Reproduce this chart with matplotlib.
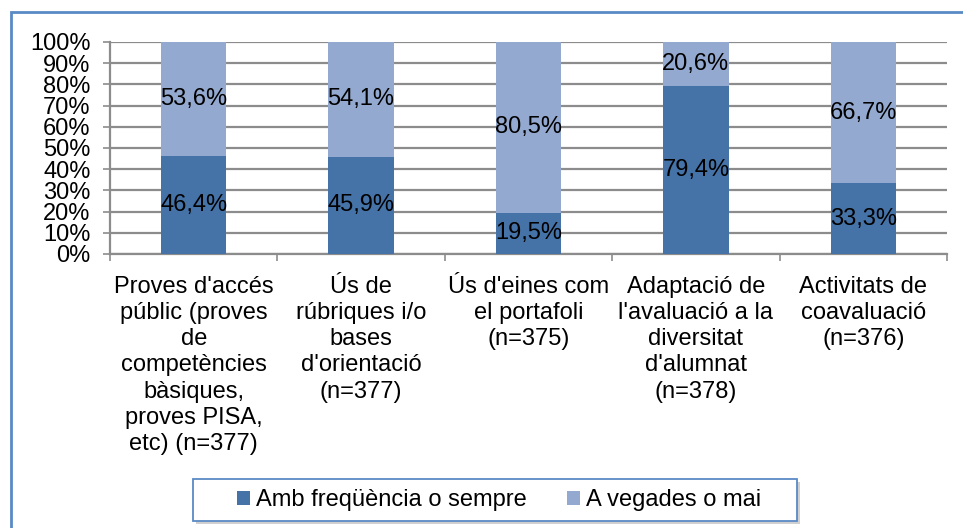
import numpy as np
import matplotlib
matplotlib.use("Agg")
import matplotlib.pyplot as plt
from matplotlib.patches import Rectangle

plt.rcParams['font.family'] = ['Liberation Sans', 'DejaVu Sans']

categories = ["Proves d'accés\npúblic (proves\nde\ncompetències\nbàsiques,\nproves PISA,\netc) (n=377)",
              "Ús de\nrúbriques i/o\nbases\nd'orientació\n(n=377)",
              "Ús d'eines com\nel portafoli\n(n=375)",
              "Adaptació de\nl'avaluació a la\ndiversitat\nd'alumnat\n(n=378)",
              "Activitats de\ncoavaluació\n(n=376)"]
series_names = ['Amb freqüència o sempre', 'A vegades o mai']
often = [46.4, 45.9, 19.5, 79.4, 33.3]
sometimes = [53.6, 54.1, 80.5, 20.6, 66.7]
colors = ['#4572a7', '#93a9cf']
grid_col = '#8c8c8c'
frame_col = '#5a8ac6'
fs = 17
W, H = 963, 528

fig = plt.figure(figsize=(W / 100, H / 100), dpi=100)
ax = fig.add_axes([110 / W, 1 - 254 / H, 837 / W, 212 / H])

x = np.arange(len(categories))
w = 0.39
b1 = ax.bar(x, often, w, color=colors[0], label=series_names[0], zorder=3)
b2 = ax.bar(x, sometimes, w, bottom=often, color=colors[1], label=series_names[1], zorder=3)

def fmt(v):
    return ('%.1f%%' % v).replace('.', ',')

for i in range(len(x)):
    ax.text(x[i], often[i] / 2, fmt(often[i]), ha='center', va='center', fontsize=fs, zorder=4)
    ax.text(x[i], often[i] + sometimes[i] / 2, fmt(sometimes[i]), ha='center', va='center', fontsize=fs, zorder=4)

ax.set_ylim(0, 100)
ax.set_xlim(-0.5, len(x) - 0.5)
ax.set_yticks(np.arange(0, 101, 10))
ax.set_yticklabels(['%d%%' % v for v in range(0, 101, 10)], fontsize=fs)
ax.yaxis.grid(True, color=grid_col, lw=1.6, zorder=0)
ax.set_xticks(np.arange(-0.5, len(x), 1.0))
ax.set_xticklabels([])
ax.tick_params(axis='y', length=5, width=1.2, color=grid_col, pad=9)
ax.tick_params(axis='x', length=5, width=1.2, color=grid_col)
for s in ['top', 'right']:
    ax.spines[s].set_visible(False)
for s in ['left', 'bottom']:
    ax.spines[s].set_color(grid_col)
    ax.spines[s].set_linewidth(1.6)

for i, lab in enumerate(categories):
    ax.annotate(lab, xy=(x[i], 0), xycoords=('data', 'axes fraction'),
                xytext=(0, -16), textcoords='offset points',
                ha='center', va='top', fontsize=fs, linespacing=1.24)

# legend box with a soft shadow
fig.patches.append(Rectangle((196 / W, 1 - 524 / H), 604 / W, 42 / H,
                             transform=fig.transFigure, facecolor='#d0d0d0',
                             edgecolor='none', zorder=1))
fig.patches.append(Rectangle((193 / W, 1 - 521 / H), 604 / W, 42 / H,
                             transform=fig.transFigure, facecolor='white',
                             edgecolor=frame_col, lw=1.3, zorder=2))
leg = fig.legend(handles=[b1, b2], loc='center', bbox_to_anchor=(499 / W, 1 - 500 / H),
                 ncol=2, fontsize=fs, frameon=False,
                 handlelength=0.55, handleheight=0.55, handletextpad=0.25,
                 columnspacing=1.7, borderpad=0.2)
leg.set_zorder(5)

fig.patches.append(Rectangle((11 / W, -0.1), 1.2, 1 - 12 / H + 0.1,
                             transform=fig.transFigure, fill=False,
                             edgecolor=frame_col, lw=2))

fig.savefig('out.png', dpi=100)
